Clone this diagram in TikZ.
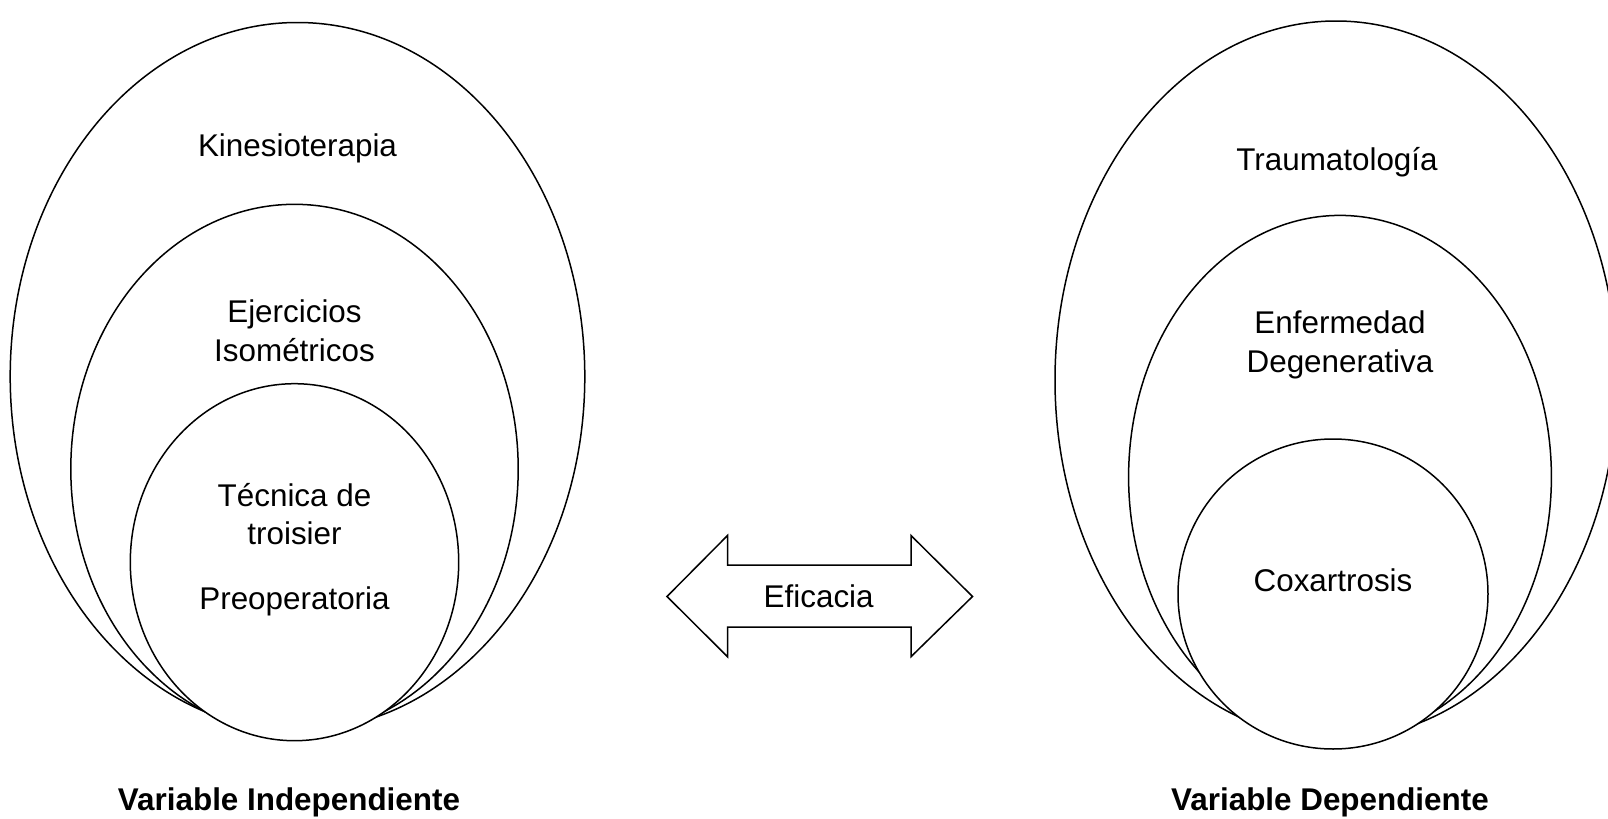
\documentclass[tikz,border=0pt]{standalone}
\usepackage{fontspec}
\setmainfont{Liberation Sans}
\begin{document}
\begin{tikzpicture}[x=0.5pt,y=-0.5pt,
  outl/.style={draw=black,fill=white,line width=0.75pt},
  lbl/.style={font=\fontsize{15.7}{18}\selectfont,inner sep=0pt,anchor=base},
  vtitle/.style={font=\fontsize{15.7}{18}\selectfont\bfseries,inner sep=0pt,anchor=base}]
\useasboundingbox (0,0) rectangle (1608,819);
% left
\path[outl] (297.5,376.5) ellipse [x radius=287.3, y radius=354];
\path[outl] (294.5,469) ellipse [x radius=223.7, y radius=264.7];
\path[outl] (294.5,562.2) ellipse [x radius=164.2, y radius=178.5];
% right
\path[outl] (1336,380) ellipse [x radius=281, y radius=359];
\path[outl] (1340,477) ellipse [x radius=211.4, y radius=261.6];
\path[outl] (1333,594) ellipse [x radius=155, y radius=155];
% arrow
\path[outl] (667,596.5) -- (727.5,535.5) -- (727.5,565) -- (911,565) -- (911,535.5) -- (972.5,596.5) -- (911,656.7) -- (911,627) -- (727.5,627) -- (727.5,656.7) -- cycle;
\node[lbl] (kin) at (297.5,156) {Kinesioterapia};
\node[lbl] (eje) at (294.5,322) {Ejercicios};
\node[lbl] (iso) at (294.5,361) {Isométricos};
\node[lbl] (tec) at (294.5,506.5) {Técnica de};
\node[lbl] (tro) at (294.5,544.5) {troisier};
\node[lbl] (pre) at (294.5,609) {Preoperatoria};
\node[lbl] (tra) at (1337,170) {Traumatología};
\node[lbl] (enf) at (1340,333) {Enfermedad};
\node[lbl] (deg) at (1340,372) {Degenerativa};
\node[lbl] (cox) at (1333,591) {Coxartrosis};
\node[lbl] (efi) at (818.7,607) {Eficacia};
\node[vtitle] (vi) at (289,810.5) {Variable Independiente};
\node[vtitle] (vd) at (1330,810.5) {Variable Dependiente};
\end{tikzpicture}
\end{document}
